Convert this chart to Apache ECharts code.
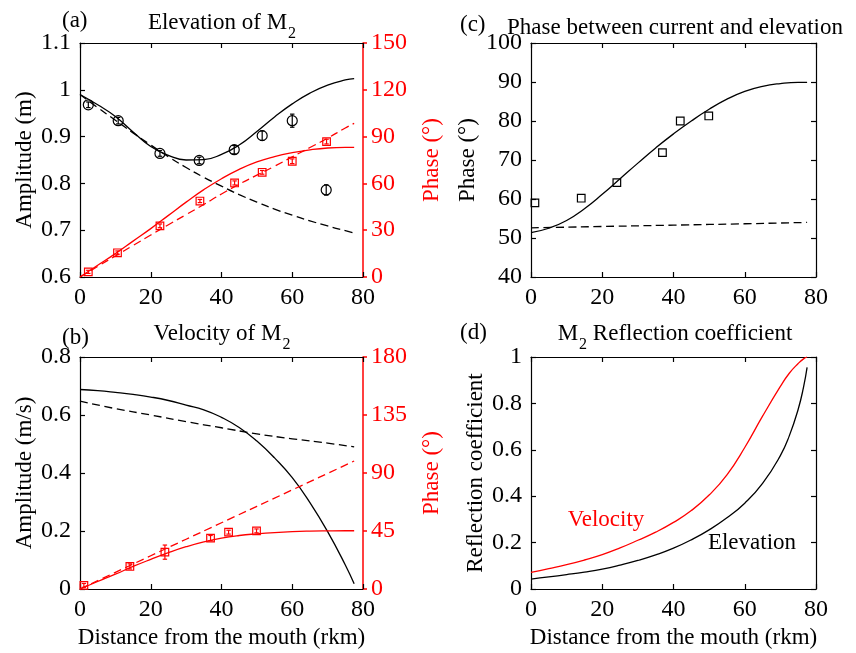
<!DOCTYPE html>
<html>
<head>
<meta charset="utf-8">
<script src="https://cdn.jsdelivr.net/npm/echarts@6/dist/echarts.min.js"></script>
<style>html,body{margin:0;padding:0;background:#fff;}#c{width:856px;height:653px;}</style>
</head>
<body>
<div id="c"></div>
<script>
// ---------- data ----------
const xModel = [0,5,10,15,20,25,30,35,40,45,50,55,60,65,70,75,77.5];
// (a) elevation
const aAmpFull   = [0.990,0.968,0.943,0.910,0.879,0.860,0.850,0.851,0.862,0.882,0.911,0.942,0.970,0.993,1.010,1.021,1.024];
const aAmpLin    = [0.990,0.962,0.935,0.908,0.882,0.857,0.834,0.813,0.794,0.776,0.760,0.745,0.732,0.720,0.709,0.699,0.694];
const aPhaFull   = [0,7.5,15,23,31,39.5,48,56,63,69,73.8,77.2,79.7,81.5,82.7,83.1,83.1];
const aPhaLin    = [0,6.8,13.5,20.2,26.9,33.5,40,46.5,53.2,59.5,65.3,71,77,83,89,95.5,98.5];
const aObsX      = [2.35,10.8,22.6,33.7,43.6,51.5,60,69.6];
const aObsAmp    = [0.968,0.934,0.864,0.849,0.872,0.902,0.934,0.786];
const aObsAmpErr = [0.006,0.007,0.006,0.007,0.009,0.010,0.014,0.011];
const aObsPhX    = [2.35,10.6,22.6,33.9,43.7,51.5,60,69.7];
const aObsPha    = [3.3,15.5,32.8,48.7,60.3,67.1,74.2,86.8];
const aObsPhaErr = [1.0,1.2,1.2,1.0,1.3,1.2,1.5,1.5];
// (b) velocity
const bAmpFull   = [0.688,0.684,0.678,0.671,0.662,0.650,0.634,0.618,0.592,0.557,0.510,0.452,0.384,0.298,0.198,0.083,0.018];
const bAmpLinX   = [0,10,20,30,40,50,60,70,77.5];
const bAmpLin    = [0.648,0.622,0.600,0.577,0.556,0.535,0.518,0.503,0.490];
const bPhaFull   = [0,5.8,11.5,17.5,23,28.2,32.8,36.6,39.5,41.5,42.8,43.8,44.5,44.9,45.1,45.2,45.2];
const bPhaLinX   = [0,20,40,60,77.5];
const bPhaLin    = [0,25.8,51.4,76.9,99.3];
const bObsX      = [1.1,14.1,24,36.9,42,49.9];
const bObsPha    = [2.8,17.5,28.6,39.5,44.1,45.1];
const bObsPhaErr = [1.5,2,5.5,2,1.5,1.5];
// (c) phase between current and elevation
const cFull      = [51.4,52.5,54.5,57.5,61.2,65.2,69.2,73.1,76.7,80,83,85.6,87.6,88.9,89.6,89.9,89.9];
const cLinX      = [0,20,40,60,77.5];
const cLin       = [52.6,52.95,53.3,53.65,54.0];
const cObsX      = [1.1,14.1,24.1,36.9,41.9,49.9];
const cObs       = [59.0,60.2,64.2,71.9,80.0,81.3];
// (d) reflection coefficient
const dX         = [0,5,10,15,20,25,30,35,40,45,50,55,60,65,70,72.5,75,76.5,77.5];
const dElev      = [0.043,0.052,0.062,0.073,0.086,0.103,0.123,0.147,0.176,0.212,0.255,0.307,0.370,0.455,0.575,0.660,0.775,0.870,0.955];
const dVel       = [0.072,0.088,0.105,0.125,0.148,0.177,0.210,0.245,0.287,0.338,0.405,0.492,0.610,0.745,0.873,0.930,0.972,0.992,1.000];
const xTicks = {min:0, max:80, interval:20};

// ---------- helpers ----------
const FONT = 'Liberation Serif';
const RED = '#ff0000';
const FS = 23;      // names / titles
const TFS = 24;     // tick labels
const pairs = (xs, ys) => xs.map((x,i)=>[x, ys[i]]);
const triples = (xs, ys, es) => xs.map((x,i)=>[x, ys[i], es ? es[i] : 0]);

const grids = [
  {left:80, top:43, width:283, height:234},
  {left:80, top:357, width:283, height:232},
  {left:531, top:43, width:285, height:234},
  {left:531, top:357, width:285, height:232}
];

function xAxes(gi, withName){
  const base = {type:'value', gridIndex:gi, min:xTicks.min, max:xTicks.max, interval:xTicks.interval,
    splitLine:{show:false}, axisLine:{onZero:false, lineStyle:{color:'#000', width:1.2}},
    axisTick:{inside:true, length:5, lineStyle:{color:'#000', width:1.2}}};
  return [
    Object.assign({}, base, {position:'bottom',
      axisLabel:{color:'#000', fontFamily:FONT, fontSize:TFS, margin:9},
      name: withName ? 'Distance from the mouth (rkm)' : '', nameLocation:'middle', nameGap:37,
      nameTextStyle:{color:'#000', fontFamily:FONT, fontSize:FS}}),
    Object.assign({}, base, {position:'top', axisLabel:{show:false}})
  ];
}
function yLeft(gi, min, max, interval, name, gap){
  return {type:'value', gridIndex:gi, position:'left', min, max, interval,
    splitLine:{show:false}, axisLine:{show:true, onZero:false, lineStyle:{color:'#000', width:1.2}},
    axisTick:{show:true, inside:true, length:5, lineStyle:{color:'#000', width:1.2}},
    axisLabel:{color:'#000', fontFamily:FONT, fontSize:TFS, margin:9},
    name, nameLocation:'middle', nameRotate:90, nameGap:gap,
    nameTextStyle:{color:'#000', fontFamily:FONT, fontSize:FS}};
}
function yRightRed(gi, min, max, interval, gap){
  return {type:'value', gridIndex:gi, position:'right', min, max, interval,
    splitLine:{show:false}, axisLine:{show:true, onZero:false, lineStyle:{color:RED, width:1.5}},
    axisTick:{show:true, inside:false, length:4, lineStyle:{color:RED, width:1.5}},
    axisLabel:{color:RED, fontFamily:FONT, fontSize:TFS, margin:8},
    name:'Phase (°)', nameLocation:'middle', nameRotate:90, nameGap:gap,
    nameTextStyle:{color:RED, fontFamily:FONT, fontSize:FS}};
}
function yRightMirror(gi, min, max, interval){
  return {type:'value', gridIndex:gi, position:'right', min, max, interval,
    splitLine:{show:false}, axisLine:{show:true, onZero:false, lineStyle:{color:'#000', width:1.2}},
    axisTick:{show:true, inside:true, length:5, lineStyle:{color:'#000', width:1.2}},
    axisLabel:{show:false}};
}
function line(xi, yi, data, color, dashed){
  return {type:'line', xAxisIndex:xi, yAxisIndex:yi, data, symbol:'none', smooth:0.5,
    lineStyle:{color, width:1.3, type: dashed ? [8,4.5] : 'solid'}, silent:true, z:3};
}
function obs(xi, yi, data, color, shape){
  return {type:'custom', xAxisIndex:xi, yAxisIndex:yi, data, z:5, silent:true,
    encode:{x:0, y:1},
    renderItem(params, api){
      const x = api.value(0), y = api.value(1), e = api.value(2);
      const c = api.coord([x, y]);
      const lo = api.coord([x, y - e]);
      const hi = api.coord([x, y + e]);
      const st = {stroke: color, lineWidth: 1.2, fill: null};
      const children = [];
      if (shape === 'circle') {
        children.push({type:'circle', shape:{cx:c[0], cy:c[1], r:5}, style:Object.assign({}, st, {fill:'rgba(0,0,0,0)'})});
      } else {
        children.push({type:'rect', shape:{x:c[0]-3.8, y:c[1]-3.8, width:7.6, height:7.6}, style:Object.assign({}, st, {fill:'rgba(0,0,0,0)'})});
      }
      if (e > 0) {
        const h = 2.2;
        children.push({type:'line', shape:{x1:lo[0], y1:lo[1], x2:hi[0], y2:hi[1]}, style:st});
        children.push({type:'line', shape:{x1:lo[0]-h, y1:lo[1], x2:lo[0]+h, y2:lo[1]}, style:st});
        children.push({type:'line', shape:{x1:hi[0]-h, y1:hi[1], x2:hi[0]+h, y2:hi[1]}, style:st});
      }
      return {type:'group', children};
    }};
}

// ---------- option ----------
const xAxis = [].concat(xAxes(0,false), xAxes(1,true), xAxes(2,false), xAxes(3,true));
const yAxis = [
  yLeft(0, 0.6, 1.1, 0.1, 'Amplitude (m)', 44),
  yRightRed(0, 0, 150, 30, 57),
  yLeft(1, 0, 0.8, 0.2, 'Amplitude (m/s)', 44),
  yRightRed(1, 0, 180, 45, 57),
  yLeft(2, 40, 100, 10, 'Phase (°)', 52),
  yRightMirror(2, 40, 100, 10),
  yLeft(3, 0, 1, 0.2, 'Reflection coefficient', 44),
  yRightMirror(3, 0, 1, 0.2)
];

const series = [
  // (a)
  line(0, 0, pairs(xModel, aAmpFull), '#000', false),
  line(0, 0, pairs(xModel, aAmpLin), '#000', true),
  line(0, 1, pairs(xModel, aPhaFull), RED, false),
  line(0, 1, pairs(xModel, aPhaLin), RED, true),
  obs(0, 0, triples(aObsX, aObsAmp, aObsAmpErr), '#000', 'circle'),
  obs(0, 1, triples(aObsPhX, aObsPha, aObsPhaErr), RED, 'rect'),
  // (b)
  line(2, 2, pairs(xModel, bAmpFull), '#000', false),
  line(2, 2, pairs(bAmpLinX, bAmpLin), '#000', true),
  line(2, 3, pairs(xModel, bPhaFull), RED, false),
  line(2, 3, pairs(bPhaLinX, bPhaLin), RED, true),
  obs(2, 3, triples(bObsX, bObsPha, bObsPhaErr), RED, 'rect'),
  // (c)
  line(4, 4, pairs(xModel, cFull), '#000', false),
  line(4, 4, pairs(cLinX, cLin), '#000', true),
  obs(4, 4, triples(cObsX, cObs, null), '#000', 'rect'),
  // (d)
  line(6, 6, pairs(dX, dElev), '#000', false),
  line(6, 6, pairs(dX, dVel), RED, false)
];

function txt(text, x, y, color, align, rich){
  return {type:'text', silent:true, z:10, style:{text, x, y, fill:color||'#000', align:align||'left', verticalAlign:'middle',
    font: FS + 'px "' + FONT + '"', rich}};
}
const subRich = {
  m:{fontFamily:FONT, fontSize:FS, fill:'#000', lineHeight:26, verticalAlign:'top'},
  s:{fontFamily:FONT, fontSize:16, fill:'#000', lineHeight:16, padding:[15,0,0,1], verticalAlign:'top'}
};
const graphic = [
  txt('(a)', 62, 21),
  txt('{m|Elevation of M}{s|2}', 222, 24, '#000', 'center', subRich),
  txt('(b)', 62, 338),
  txt('{m|Velocity of M}{s|2}', 222, 335, '#000', 'center', subRich),
  txt('(c)', 460, 25),
  txt('Phase between current and elevation', 675, 28, '#000', 'center'),
  txt('(d)', 460, 333),
  txt('{m|M}{s|2}{m| Reflection coefficient}', 675, 335, '#000', 'center', subRich),
  txt('Velocity', 606, 520, RED, 'center'),
  txt('Elevation', 752, 543, '#000', 'center')
];

const chart = echarts.init(document.getElementById('c'), null, {renderer:'canvas'});
chart.setOption({
  animation:false,
  backgroundColor:'#fff',
  grid: grids.map(g => Object.assign({}, g, {containLabel:false, outerBoundsMode:'none', show:false})),
  xAxis, yAxis, series, graphic
});
</script>
</body>
</html>
